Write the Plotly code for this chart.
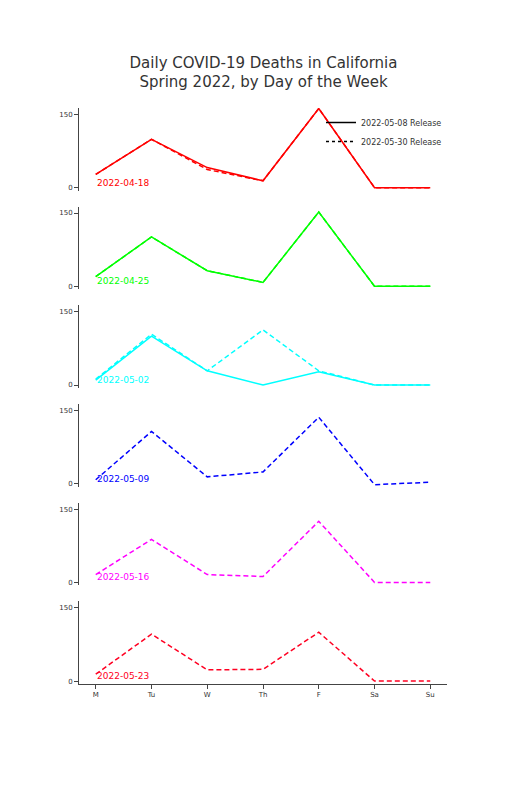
import plotly.graph_objects as go
from plotly.subplots import make_subplots

days = ["M", "Tu", "W", "Th", "F", "Sa", "Su"]
weeks = ["2022-04-18", "2022-04-25", "2022-05-02", "2022-05-09", "2022-05-16", "2022-05-23"]
colors = ["#ff0000", "#00ff00", "#00ffff", "#0000ff", "#ff00ff", "#ff0022"]

# 2022-05-08 release (solid), None where that week was not yet reported
release_0508 = [
    [27, 99, 41, 14, 162, 0, 0],
    [20, 101, 32, 8, 152, 0, 0],
    [10, 100, 29, 0, 27, 0, 0],
    None,
    None,
    None,
]
# 2022-05-30 release (dashed)
release_0530 = [
    [27, 99, 37, 14, 162, 0, 0],
    [20, 101, 32, 8, 152, 0, 0],
    [12, 104, 29, 113, 29, 0, 0],
    [8, 107, 14, 24, 136, -2, 3],
    [16, 88, 16, 12, 125, 0, 0],
    [14, 96, 23, 24, 100, 0, 0],
]

fig = make_subplots(rows=6, cols=1, shared_xaxes=True, vertical_spacing=0.028)

for i, wk in enumerate(weeks):
    r = i + 1
    if release_0508[i] is not None:
        fig.add_trace(go.Scatter(x=days, y=release_0508[i], mode="lines",
                                 line=dict(color=colors[i], width=1.5),
                                 showlegend=False), row=r, col=1)
    fig.add_trace(go.Scatter(x=days, y=release_0530[i], mode="lines",
                             line=dict(color=colors[i], width=1.5, dash="5px,3px"),
                             showlegend=False), row=r, col=1)
    ax = "" if r == 1 else str(r)
    fig.add_annotation(x=-0.02, y=-4, xref="x" + ax, yref="y" + ax, text=wk,
                       showarrow=False, xanchor="left", yanchor="bottom",
                       font=dict(color=colors[i], size=9))
    fig.update_yaxes(row=r, col=1, range=[-6, 163], tickvals=[0, 150],
                     showline=True, linecolor="#444", ticks="outside",
                     ticklen=4, showgrid=False, zeroline=False,
                     tickfont=dict(size=7))
    fig.update_xaxes(row=r, col=1, range=[-0.3, 6.3], showgrid=False,
                     zeroline=False, showline=(r == 6), linecolor="#444",
                     ticks="outside" if r == 6 else "", ticklen=4,
                     showticklabels=(r == 6), tickfont=dict(size=7))

# legend entries
fig.add_trace(go.Scatter(x=[None], y=[None], mode="lines", name="2022-05-08 Release",
                         line=dict(color="black", width=1.5)), row=1, col=1)
fig.add_trace(go.Scatter(x=[None], y=[None], mode="lines", name="2022-05-30 Release",
                         line=dict(color="black", width=1.5, dash="3px,3px")), row=1, col=1)

fig.update_layout(
    width=511, height=796,
    title=dict(text="Daily COVID-19 Deaths in California<br>Spring 2022, by Day of the Week",
               x=0.5, xanchor="center", y=0.925, yanchor="middle",
               font=dict(size=15, color="#333")),
    font=dict(family="DejaVu Sans", color="#333"),
    margin=dict(l=71, r=72, t=100, b=120),
    plot_bgcolor="white", paper_bgcolor="white",
    legend=dict(x=1.0, y=1.0, xanchor="right", yanchor="top", bgcolor="rgba(0,0,0,0)",
                font=dict(size=8), itemwidth=30, tracegroupgap=0),
)

fig.write_html("out.html")
